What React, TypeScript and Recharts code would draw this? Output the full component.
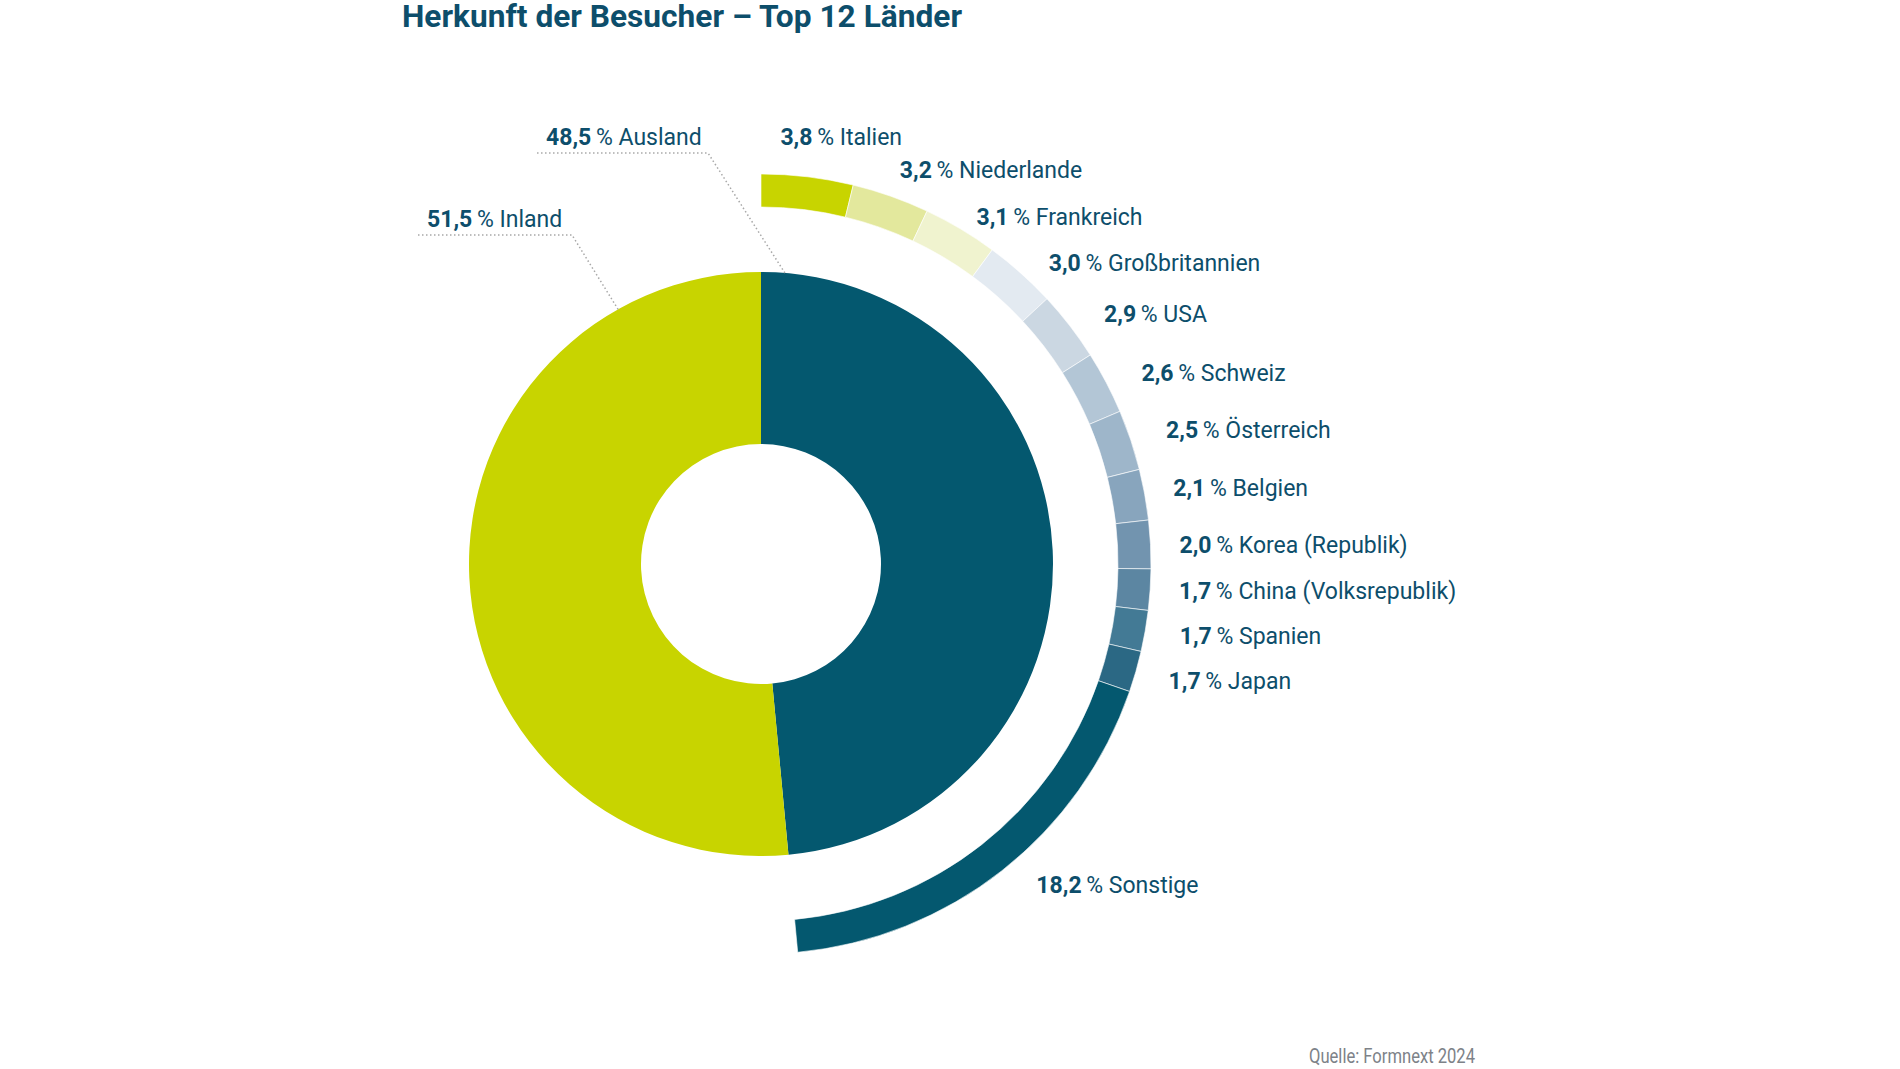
import React from 'react';
import { PieChart, Pie, Cell } from 'recharts';

// inner ring: Inland / Ausland
const originNames = ['Ausland', 'Inland'];
const originValues = [48.5, 51.5];
const originColors = ['#04586f', '#c8d400'];

// outer ring: top 12 foreign countries + rest
const countryNames = [
  'Italien',
  'Niederlande',
  'Frankreich',
  'Großbritannien',
  'USA',
  'Schweiz',
  'Österreich',
  'Belgien',
  'Korea (Republik)',
  'China (Volksrepublik)',
  'Spanien',
  'Japan',
  'Sonstige'
];
const countryValues = [3.8, 3.2, 3.1, 3.0, 2.9, 2.6, 2.5, 2.1, 2.0, 1.7, 1.7, 1.7, 18.2];
const countryColors = [
  '#c8d400',
  '#e3e89d',
  '#f0f3cf',
  '#e3eaf1',
  '#cbd7e2',
  '#b3c6d6',
  '#9eb6ca',
  '#88a5bd',
  '#7294af',
  '#5c86a2',
  '#437a95',
  '#2b6884',
  '#04586f'
];

const TEXT = '#0d4e6b';
const RAD = Math.PI / 180;

// small hand nudges so labels don't crowd each other (px, per slice)
const labelNudge: [number, number][] = [
  [-31, -7],
  [-2, 5],
  [-1, 16],
  [6, 15],
  [8, 8],
  [6, 6],
  [4, 0],
  [-4, -1],
  [-4, 2],
  [-4, -1],
  [2, -1],
  [1, 0],
  [14, -12]
];

const originData = originNames.map((name, i) => ({ name, value: originValues[i] }));
const countryData = countryNames.map((name, i) => ({ name, value: countryValues[i] }));
const countryTotal = countryValues.reduce((a, b) => a + b, 0);

const fmt = (v: number) => v.toFixed(1).replace('.', ',');

const LabelText = ({ x, y, value, name }: any) => (
  <text x={x} y={y} fill={TEXT} fontSize={23} fontFamily="Roboto" textAnchor="start">
    <tspan fontWeight={700}>{fmt(value)}</tspan>
    <tspan>{'\u2009% ' + name}</tspan>
  </text>
);

const renderCountryLabel = (props: any) => {
  const { cx, cy, midAngle, outerRadius, index, value } = props;
  const name = props.payload?.name ?? props.name;
  const r = outerRadius + 33;
  const [nx, ny] = labelNudge[index] || [0, 0];
  const x = cx + r * Math.cos(-midAngle * RAD) + nx;
  const y = cy + r * Math.sin(-midAngle * RAD) + ny;
  return <LabelText x={x} y={y + 8} value={value} name={name} />;
};

const renderOriginLabel = (props: any) => {
  const { cx, cy, outerRadius, index, value } = props;
  const name = props.payload?.name ?? props.name;
  const lead =
    index === 0
      ? { deg: 4.7, ex: -53, ey: -411, sx: -224 }
      : { deg: -29.3, ex: -189, ey: -329, sx: -343 };
  const ax = cx + outerRadius * Math.sin(lead.deg * RAD);
  const ay = cy - outerRadius * Math.cos(lead.deg * RAD);
  const ex = cx + lead.ex;
  const ey = cy + lead.ey;
  return (
    <g>
      <polyline
        points={`${ax},${ay} ${ex},${ey} ${cx + lead.sx},${ey}`}
        fill="none"
        stroke="#a8a8a8"
        strokeWidth={1.5}
        strokeDasharray="1.5 2.5"
      />
      <LabelText x={cx + lead.sx + 9} y={ey - 8} value={value} name={name} />
    </g>
  );
};

const App: React.FC = () => {
  return (
    <div style={{ position: 'absolute', left: 0, top: 0, width: 1900, height: 1069, background: '#fff' }}>
      <PieChart width={1900} height={1069} margin={{ top: 0, right: 0, bottom: 0, left: 0 }}>
        <Pie
          data={originData}
          dataKey="value"
          nameKey="name"
          cx={761}
          cy={564}
          innerRadius={120}
          outerRadius={292}
          startAngle={90}
          endAngle={-270}
          stroke="none"
          label={renderOriginLabel}
          labelLine={false}
          isAnimationActive={false}
        >
          {originData.map((d, i) => (
            <Cell key={d.name} fill={originColors[i]} />
          ))}
        </Pie>
        <Pie
          data={countryData}
          dataKey="value"
          nameKey="name"
          cx={761}
          cy={564}
          innerRadius={357}
          outerRadius={390}
          startAngle={90}
          endAngle={90 - 3.6 * countryTotal}
          stroke="#ffffff"
          strokeWidth={0.6}
          label={renderCountryLabel}
          labelLine={false}
          isAnimationActive={false}
        >
          {countryData.map((d, i) => (
            <Cell key={d.name} fill={countryColors[i]} />
          ))}
        </Pie>
      </PieChart>
      <svg
        width={1900}
        height={1069}
        style={{ position: 'absolute', left: 0, top: 0, pointerEvents: 'none' }}
      >
        <text
          x={402}
          y={27}
          fill={TEXT}
          fontSize={32}
          fontWeight={700}
          fontFamily="Roboto"
          textLength={560}
          lengthAdjust="spacingAndGlyphs"
        >
          Herkunft der Besucher – Top 12 Länder
        </text>
        <text
          x={1309}
          y={1063}
          fill="#7d8288"
          fontSize={20}
          fontFamily="Roboto"
          textLength={166}
          lengthAdjust="spacingAndGlyphs"
        >
          Quelle: Formnext 2024
        </text>
      </svg>
    </div>
  );
};

export default App;
